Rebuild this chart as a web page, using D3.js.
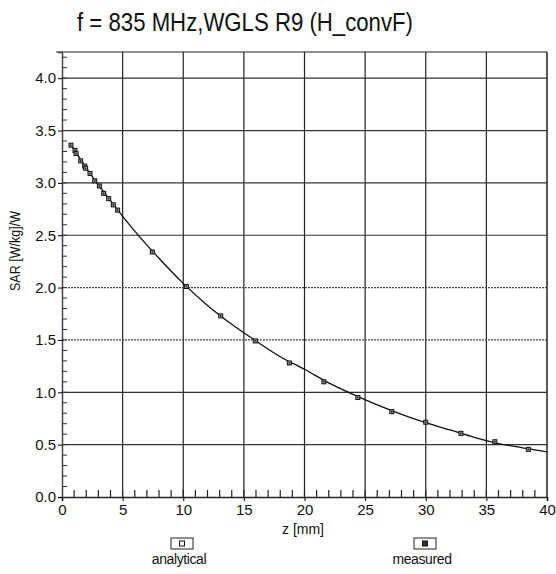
<!DOCTYPE html>
<html>
<head>
<meta charset="utf-8">
<title>SAR vs z</title>
<script src="https://cdn.jsdelivr.net/npm/d3@7/dist/d3.min.js"></script>
<style>
  body { margin: 0; background: #fff; }
  text { font-family: "Liberation Sans", Arial, sans-serif; fill: #111; }
</style>
</head>
<body>
<svg id="vis" width="556" height="574"></svg>
<script>
// analytical curve
var anaZ   = [0.7, 1, 2, 3, 4, 5, 6, 8, 10, 12, 14, 16, 18, 20, 22, 24, 26, 28, 30, 32, 34, 36, 38, 40];
var anaSAR = [3.37, 3.32, 3.14, 2.98, 2.83, 2.68, 2.54, 2.28, 2.04, 1.83, 1.65, 1.49, 1.34, 1.22, 1.09, 0.98, 0.88, 0.79, 0.71, 0.64, 0.57, 0.51, 0.47, 0.43];

// measured points
var measZ   = [0.74, 1.07, 1.16, 1.54, 1.87, 1.95, 2.31, 2.7, 3.08, 3.44, 3.85, 4.23, 4.59, 7.45, 10.25, 13.09, 15.94, 18.75, 21.6, 24.4, 27.2, 30.0, 32.9, 35.7, 38.46];
var measSAR = [3.36, 3.31, 3.28, 3.21, 3.16, 3.14, 3.09, 3.02, 2.97, 2.90, 2.85, 2.79, 2.74, 2.34, 2.01, 1.73, 1.49, 1.28, 1.10, 0.95, 0.815, 0.714, 0.608, 0.528, 0.455];

var xTicks = [0, 5, 10, 15, 20, 25, 30, 35, 40];
var yTicks = [0, 0.5, 1.0, 1.5, 2.0, 2.5, 3.0, 3.5, 4.0];
var dottedY = [1.5, 2.0];   // grid lines that look dotted in the scan

(function () {
var svg = d3.select("#vis");
var pL = 62, pR = 547, pT = 52, pB = 497;

var x = d3.scaleLinear().domain([0, 40]).range([pL, pR]);
var y = d3.scaleLinear().domain([0, 4.25]).range([pB, pT]);

// title
svg.append("text").attr("x", 245).attr("y", 31).attr("text-anchor", "middle")
   .attr("font-size", 25).attr("textLength", 336).attr("lengthAdjust", "spacingAndGlyphs")
   .text("f = 835 MHz,WGLS R9 (H_convF)");

// grid
svg.append("g").selectAll("line").data(xTicks.filter(function(d){ return d > 0 && d < 40; }))
   .enter().append("line")
   .attr("x1", function(d){ return x(d); }).attr("x2", function(d){ return x(d); })
   .attr("y1", pT).attr("y2", pB)
   .attr("stroke", "#222").attr("stroke-width", 1.2);

svg.append("g").selectAll("line").data(yTicks.filter(function(d){ return d > 0; }))
   .enter().append("line")
   .attr("x1", pL).attr("x2", pR)
   .attr("y1", function(d){ return y(d); }).attr("y2", function(d){ return y(d); })
   .attr("stroke", function(d){ return dottedY.indexOf(d) >= 0 ? "#444" : "#333"; })
   .attr("stroke-dasharray", function(d){ return dottedY.indexOf(d) >= 0 ? "2,1" : null; })
   .attr("stroke-width", 1.2);

// frame
svg.append("line").attr("x1", pL - 6).attr("x2", pR).attr("y1", pT).attr("y2", pT)
   .attr("stroke", "#222").attr("stroke-width", 1);
svg.append("line").attr("x1", pR).attr("x2", pR).attr("y1", pT).attr("y2", pB)
   .attr("stroke", "#222").attr("stroke-width", 1.5);

// axes
var xAxis = d3.axisBottom(x).tickValues(xTicks).tickSize(4).tickPadding(3).tickFormat(d3.format("d"));
var gx = svg.append("g").attr("transform", "translate(0," + pB + ")").call(xAxis);
gx.select(".domain").attr("stroke", "#222").attr("stroke-width", 1.5);
gx.selectAll("text").attr("font-size", 15).attr("font-family", "Liberation Sans, Arial, sans-serif").attr("fill", "#111");

var yAxis = d3.axisLeft(y).tickValues(yTicks).tickSize(4).tickPadding(2).tickFormat(d3.format(".1f"));
var gy = svg.append("g").attr("transform", "translate(" + pL + ",0)").call(yAxis);
gy.select(".domain").attr("stroke", "#444").attr("stroke-width", 1.5);
gy.selectAll("text").attr("font-size", 15).attr("font-family", "Liberation Sans, Arial, sans-serif").attr("fill", "#111");

// minor ticks
svg.append("g").selectAll("line").data(d3.range(1, 40))
   .enter().append("line")
   .attr("x1", function(d){ return x(d); }).attr("x2", function(d){ return x(d); })
   .attr("y1", pB).attr("y2", pB - 7)
   .attr("stroke", "#222").attr("stroke-width", 1.2);
svg.append("g").selectAll("line").data(d3.range(1, 43).map(function(i){ return i / 10; }))
   .enter().append("line")
   .attr("x1", pL).attr("x2", pL + 5)
   .attr("y1", function(d){ return y(d); }).attr("y2", function(d){ return y(d); })
   .attr("stroke", "#333").attr("stroke-width", 1);

// axis titles
svg.append("text").attr("x", 303).attr("y", 534).attr("text-anchor", "middle")
   .attr("font-size", 14).text("z [mm]");
svg.append("text").attr("transform", "translate(20,251) rotate(-90)").attr("text-anchor", "middle")
   .attr("font-size", 14).attr("textLength", 80).attr("lengthAdjust", "spacingAndGlyphs")
   .text("SAR [W/kg]/W");

// analytical line
var anaData = anaZ.map(function(z, i){ return [z, anaSAR[i]]; });
svg.append("path").datum(anaData)
   .attr("d", d3.line().x(function(d){ return x(d[0]); }).y(function(d){ return y(d[1]); }).curve(d3.curveMonotoneX))
   .attr("fill", "none").attr("stroke", "#111").attr("stroke-width", 1.3);

// measured markers
var measData = measZ.map(function(z, i){ return [z, measSAR[i]]; });
var mk = svg.append("g").selectAll("g").data(measData).enter().append("g")
   .attr("transform", function(d){ return "translate(" + x(d[0]) + "," + y(d[1]) + ")"; });
mk.append("rect").attr("x", -2).attr("y", -2).attr("width", 4).attr("height", 4)
   .attr("fill", "#999").attr("stroke", "#111").attr("stroke-width", 1);
mk.append("circle").attr("r", 0.8).attr("fill", "#111");

// legend
var legend = [{label: "analytical", cx: 182, filled: false}, {label: "measured", cx: 425, filled: true}];
var lg = svg.append("g").selectAll("g").data(legend).enter().append("g");
lg.append("rect").attr("x", function(d){ return d.cx - 11; }).attr("y", 538).attr("width", 22).attr("height", 11)
   .attr("fill", "#fff").attr("stroke", "#222").attr("stroke-width", 1);
lg.append("rect").attr("x", function(d){ return d.cx - 2.5; }).attr("y", 541).attr("width", 5).attr("height", 5)
   .attr("fill", function(d){ return d.filled ? "#333" : "#fff"; }).attr("stroke", "#111").attr("stroke-width", 1);
lg.append("text").attr("x", function(d){ return d.cx - 3; }).attr("y", 564).attr("text-anchor", "middle")
   .attr("font-size", 14).attr("letter-spacing", -0.4).text(function(d){ return d.label; });
})();
</script>
</body>
</html>
